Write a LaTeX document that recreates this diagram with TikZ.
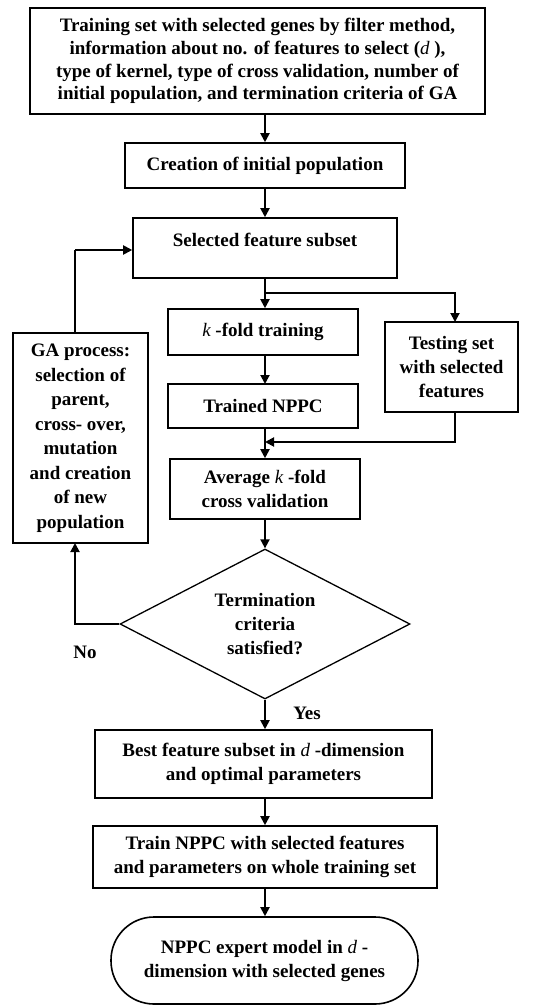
\documentclass[tikz,border=0pt]{standalone}
\usepackage{fontspec}
\setmainfont{Liberation Serif}
\usetikzlibrary{arrows.meta,shapes.geometric}
\newcommand{\vit}[1]{{\mdseries\itshape #1}}
\begin{document}
\begin{tikzpicture}[x=1pt,y=-1pt,
  txt/.style={font=\bfseries\fontsize{19}{24}\selectfont, align=center},
  box/.style={draw, line width=1.6pt, inner sep=0pt, txt},
  arr/.style={line width=1.9pt, -{Triangle[length=9pt,width=9pt]}},
  ln/.style={line width=1.9pt}]
\useasboundingbox (0,0) rectangle (549,1006);
\fill[white] (0,0) rectangle (549,1006);

\node[box, minimum width=455, minimum height=106, font=\bfseries\fontsize{19}{22.7}\selectfont] (top) at (257.5,61)
 {Training set with selected genes by filter method,\\
  information about no. of features to select (\vit{d} ),\\
  type of kernel, type of cross validation, number of\\
  initial population, and termination criteria of GA};
\node[box, minimum width=280, minimum height=45] (init) at (265,165.5) {Creation of initial population};
\node[box, minimum width=264, minimum height=60] (sfs) at (265,248) {};
\node[txt] (sfst) at (265,240) {Selected feature subset};
\node[box, minimum width=190, minimum height=46] (kf) at (263,332) {\vit{k} -fold training};
\node[box, minimum width=190, minimum height=44] (tr) at (263,406) {Trained NPPC};
\node[box, minimum width=133, minimum height=90] (test) at (451.5,367) {Testing set\\with selected\\features};
\node[box, minimum width=190, minimum height=60] (avg) at (265,489) {Average \vit{k} -fold\\cross validation};
\node[box, minimum width=135, minimum height=210, font=\bfseries\fontsize{19}{24.5}\selectfont] (ga) at (80.5,438)
 {GA process:\\selection of\\parent,\\cross- over,\\mutation\\and creation\\of new\\population};
\node[draw, line width=1.3pt, shape=diamond, aspect=1.93, minimum width=290, minimum height=150, inner sep=0pt, txt] (dia) at (265,624)
 {Termination\\criteria\\satisfied?};
\node[box, minimum width=337, minimum height=68] (best) at (263.5,764) {Best feature subset in \vit{d} -dimension\\and optimal parameters};
\node[box, minimum width=344, minimum height=62] (train) at (265,857) {Train NPPC with selected features\\and parameters on whole training set};
\node[box, rounded corners=43pt, minimum width=307, minimum height=87] (exp) at (264.5,960.5) {NPPC expert model in \vit{d} -\\dimension with selected genes};
\node[txt] (no) at (85,652) {No};
\node[txt] (yes) at (307,713) {Yes};

\coordinate (br) at (265,293);
\coordinate (mrg) at (265,442);
\coordinate (gacorner) at (75,250);

\draw[arr] (265,114) -- (init.north);
\draw[arr] (init.south) -- (sfs.north);
\draw[ln] (sfs.south) -- (br);
\draw[arr] (br) -- (br |- kf.north);
\draw[arr] (br) -| (455,322);
\draw[arr] (265,355) -- (265,384);
\draw[arr] (265,428) -- (avg.north);
\draw[arr] (455,412) |- (mrg);
\draw[arr] (avg.south) -- (dia.north);
\draw[arr] (dia.west) -| (75,543);
\draw[ln] (75,333) -- (gacorner);
\draw[arr] (gacorner) -- (sfs.west |- gacorner);
\draw[arr] (dia.south) -- (best.north -| dia.south);
\draw[arr] (best.south -| dia.south) -- (train.north -| dia.south);
\draw[arr] (train.south -| dia.south) -- (exp.north -| dia.south);
\end{tikzpicture}
\end{document}
